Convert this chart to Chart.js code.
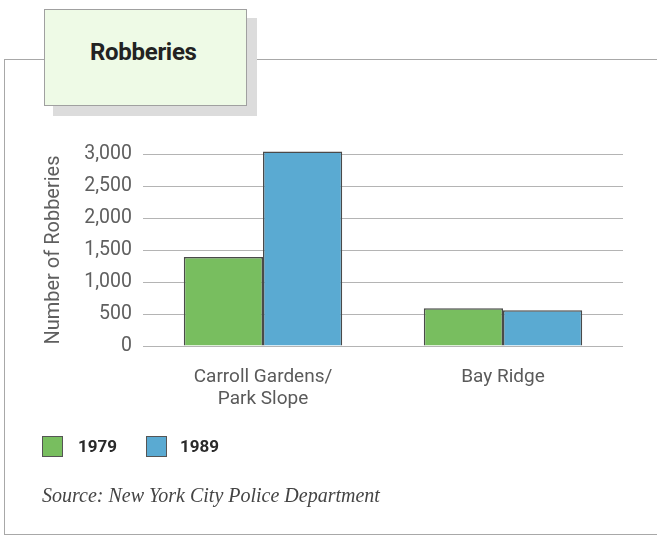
<!DOCTYPE html>
<html>
<head>
<meta charset="utf-8">
<script src="https://cdn.jsdelivr.net/npm/chart.js@4.4.1/dist/chart.umd.min.js"></script>
<style>
  html, body { margin: 0; padding: 0; background: #fff; }
  body { width: 657px; height: 539px; position: relative; overflow: hidden; font-family: Roboto, "Liberation Sans", sans-serif; }
  #wrap { position: absolute; left: 0; top: 0; width: 657px; height: 539px; }
  .line { position: absolute; background: #a8a8a8; }
  #shadow { position: absolute; left: 53px; top: 18px; width: 204px; height: 98px; background: #dcdcdc; }
  #titlebox { position: absolute; left: 44px; top: 9px; width: 203px; height: 97px; background: #eefae6; border: 1px solid #a0a0a0; box-sizing: border-box; }
  #title { position: absolute; left: 45px; top: 28px; font-weight: bold; font-size: 24px; color: #222; letter-spacing: -0.3px; }
  .legsq { position: absolute; width: 21px; height: 21px; border: 1.5px solid #555; box-sizing: border-box; }
  .legtx { position: absolute; font-weight: bold; font-size: 17px; color: #2a2a2a; }
  #source { position: absolute; left: 42px; top: 484px; font-family: "Liberation Serif", "DejaVu Serif", serif; font-style: italic; font-size: 20px; color: #444; }
  canvas { position: absolute; left: 0; top: 0; }
</style>
</head>
<body>
<div id="wrap">
  <div class="line" style="left:4px; top:59px; width:41px; height:1px;"></div>
  <div class="line" style="left:247px; top:59px; width:410px; height:1px;"></div>
  <div class="line" style="left:4px; top:59px; width:1px; height:476px;"></div>
  <div class="line" style="left:4px; top:534px; width:653px; height:1px;"></div>
  <div id="shadow"></div>
  <div id="titlebox"><div id="title">Robberies</div></div>
  <canvas id="c" width="657" height="539"></canvas>
  <div class="legsq" style="left:42px; top:436px; background:#78be5f;"></div>
  <div class="legtx" style="left:78px; top:436px;">1979</div>
  <div class="legsq" style="left:146px; top:436px; background:#5aaad2;"></div>
  <div class="legtx" style="left:180px; top:436px;">1989</div>
  <div id="source">Source: New York City Police Department</div>
</div>
<script>
const categories = [["Carroll Gardens/", "Park Slope"], "Bay Ridge"];
const seriesNames = ["1979", "1989"];
const values1979 = [1390, 590];
const values1989 = [3040, 560];
const yTicks = [0, 500, 1000, 1500, 2000, 2500, 3000];

const ctx = document.getElementById('c').getContext('2d');
new Chart(ctx, {
  type: 'bar',
  data: {
    labels: categories,
    datasets: [
      { label: seriesNames[0], data: values1979, backgroundColor: '#78be5f', borderColor: '#4a4a4a', borderWidth: 1.5, categoryPercentage: 0.66, barPercentage: 1.0, clip: false },
      { label: seriesNames[1], data: values1989, backgroundColor: '#5aaad2', borderColor: '#4a4a4a', borderWidth: 1.5, categoryPercentage: 0.66, barPercentage: 1.0, clip: false }
    ]
  },
  options: {
    responsive: false,
    animation: false,
    layout: { padding: { top: 154, right: 34, bottom: 0, left: 0 } },
    plugins: { legend: { display: false }, tooltip: { enabled: false } },
    scales: {
      x: {
        grid: { display: false, drawTicks: false },
        border: { display: false },
        ticks: { color: '#5a5a5a', font: { family: 'Roboto', size: 19, lineHeight: 1.15 }, padding: 20, maxRotation: 0 },
        afterFit: (s) => { s.height = 539 - 346; }
      },
      y: {
        min: 0, max: 3000,
        afterBuildTicks: (s) => { s.ticks = yTicks.map(v => ({ value: v })); },
        grid: { color: '#b4b4b4', lineWidth: 1, drawTicks: false },
        border: { display: false },
        ticks: { color: '#5f5f5f', font: { family: 'Roboto', size: 19.5 }, padding: 11,
          callback: (v) => v.toLocaleString('en-US') },
        title: { display: true, text: 'Number of Robberies', color: '#5f5f5f', font: { family: 'Roboto', size: 20 }, padding: { top: 42, bottom: 0 } },
        afterFit: (s) => { s.width = 143; }
      }
    }
  }
});
</script>
</body>
</html>
